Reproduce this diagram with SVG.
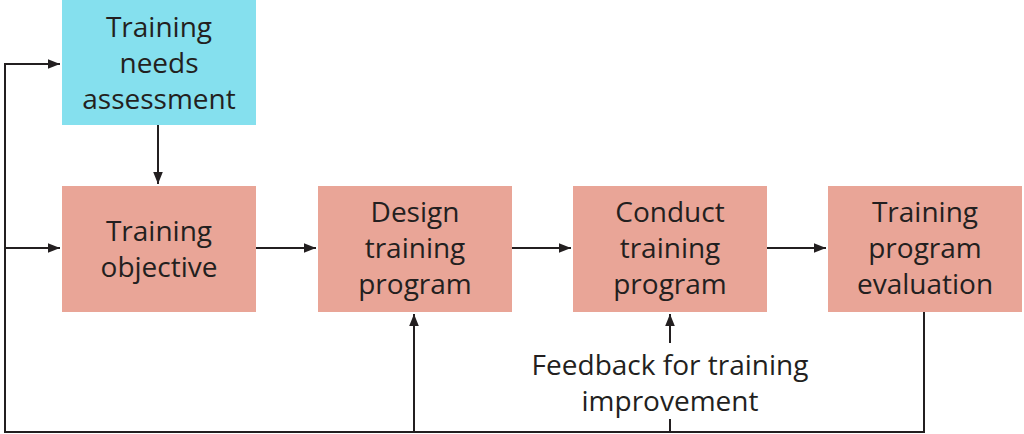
<svg xmlns="http://www.w3.org/2000/svg" width="1024" height="434" viewBox="0 0 1024 434">
<defs>
<style>
text{font-family:"Open Sans","Noto Sans",sans-serif;font-size:28px;fill:#231f20;text-anchor:middle}
.p{fill:#e9a597}
.b{fill:#85e0ee}
.c line,.c polyline{stroke:#231f20;stroke-width:2;fill:none}
</style>
<marker id="a" viewBox="0 0 10 10" refX="10" refY="5" markerWidth="6" markerHeight="6" orient="auto"><path d="M0,1L10,5L0,9z" fill="#231f20"/></marker>
</defs>
<g class="c">
<polyline points="924,312 924,432 5,432 5,64 60,64" marker-end="url(#a)"/>
<line x1="5" y1="248" x2="60" y2="248" marker-end="url(#a)"/>
<line x1="158" y1="125" x2="158" y2="184" marker-end="url(#a)"/>
<line x1="256" y1="248" x2="316" y2="248" marker-end="url(#a)"/>
<line x1="512" y1="248" x2="571" y2="248" marker-end="url(#a)"/>
<line x1="767" y1="248" x2="826" y2="248" marker-end="url(#a)"/>
<line x1="414" y1="432" x2="414" y2="314" marker-end="url(#a)"/>
<line x1="670" y1="432" x2="670" y2="419"/>
<line x1="670" y1="343" x2="670" y2="314" marker-end="url(#a)"/>
</g>
<g id="n0"><rect class="b" x="62" y="0" width="194" height="125"/><text x="159" y="37">Training</text><text x="159" y="73">needs</text><text x="159" y="109">assessment</text></g>
<g id="n1"><rect class="p" x="62" y="186" width="194" height="126"/><text x="159" y="241">Training</text><text x="159" y="277">objective</text></g>
<g id="n2"><rect class="p" x="318" y="186" width="194" height="126"/><text x="415" y="222">Design</text><text x="415" y="258">training</text><text x="415" y="294">program</text></g>
<g id="n3"><rect class="p" x="573" y="186" width="194" height="126"/><text x="670" y="222">Conduct</text><text x="670" y="258">training</text><text x="670" y="294">program</text></g>
<g id="n4"><rect class="p" x="828" y="186" width="194" height="126"/><text x="925" y="222">Training</text><text x="925" y="258">program</text><text x="925" y="294">evaluation</text></g>
<g id="lbl"><text x="670" y="375">Feedback for training</text><text x="670" y="411">improvement</text></g>
</svg>
